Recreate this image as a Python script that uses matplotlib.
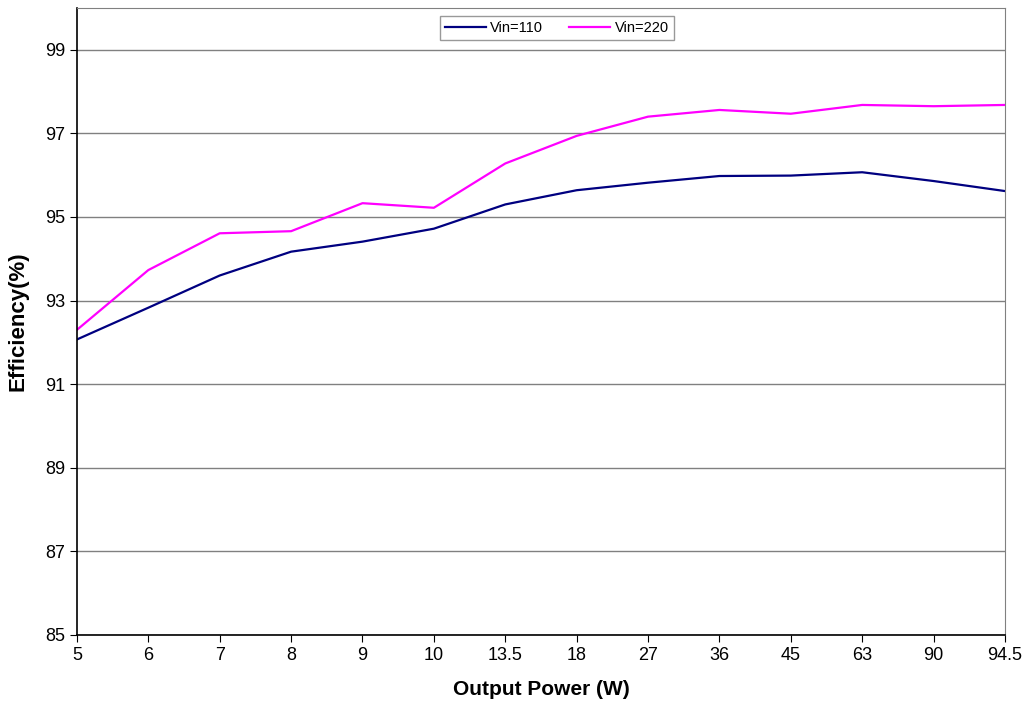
import numpy as np
import matplotlib.pyplot as plt

plt.rcParams['font.family'] = ['Liberation Sans', 'DejaVu Sans']

# output power categories (equally spaced on the chart)
power = ['5', '6', '7', '8', '9', '10', '13.5', '18', '27', '36', '45', '63', '90', '94.5']

eff_110 = [92.07, 92.83, 93.6, 94.17, 94.41, 94.72, 95.3, 95.64, 95.82, 95.98, 95.99, 96.07, 95.86, 95.62]
eff_220 = [92.3, 93.73, 94.61, 94.66, 95.33, 95.22, 96.28, 96.94, 97.4, 97.56, 97.47, 97.68, 97.65, 97.68]

fig = plt.figure(figsize=(10.26, 7.05), dpi=100)
ax = fig.add_axes([0.075, 0.0993, 0.9045, 0.8894])

x = np.arange(len(power))
ax.plot(x, eff_110, color='#000080', lw=1.6, label='Vin=110')
ax.plot(x, eff_220, color='#ff00ff', lw=1.6, label='Vin=220')

ax.set_xlim(0, len(power) - 1)
ax.set_ylim(85, 100)
ax.set_xticks(x)
ax.set_xticklabels(power)
ax.set_yticks(np.arange(85, 100, 2))
ax.yaxis.grid(True, color='#808080', lw=1)
ax.set_axisbelow(True)
ax.tick_params(labelsize=13, length=5, color='black')

for s in ['top', 'right']:
    ax.spines[s].set_color('#808080')
for s in ['left', 'bottom']:
    ax.spines[s].set_color('black')
    ax.spines[s].set_linewidth(1.2)

ax.set_xlabel('Output Power (W)', fontsize=15, fontweight='bold', labelpad=12)
ax.set_ylabel('Efficiency(%)', fontsize=16, fontweight='bold', labelpad=12)

leg = ax.legend(loc='upper center', bbox_to_anchor=(0.517, 0.987), borderaxespad=0,
                ncol=2, fontsize=10.5, frameon=True, fancybox=False, edgecolor='#808080',
                handlelength=2.8, borderpad=0.35, columnspacing=1.8, handletextpad=0.3)
leg.get_frame().set_linewidth(1)

fig.savefig('out.png', dpi=100)
